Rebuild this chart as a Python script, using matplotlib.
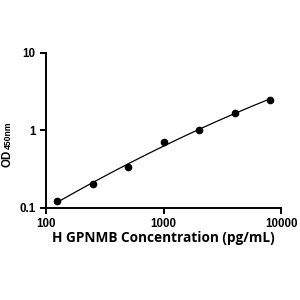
import matplotlib
matplotlib.use("Agg")
import matplotlib.pyplot as plt
import numpy as np

conc = [125, 250, 500, 1000, 2000, 4000, 8000]
od = [0.123, 0.20, 0.335, 0.70, 1.0, 1.66, 2.47]
xticks = [100, 1000, 10000]
xticklabels = ["100", "1000", "10000"]
yticks = [0.1, 1, 10]
yticklabels = ["0.1", "1", "10"]

plt.rcParams['font.family'] = ['Liberation Sans', 'DejaVu Sans']

fig = plt.figure(figsize=(3, 3), dpi=100)
ax = fig.add_axes([0.153, 0.308, 0.785, 0.517])

# smooth fit through data in log-log space
lx = np.log10(conc)
ly = np.log10(od)
coef = np.polyfit(lx, ly, 2)
xs = np.linspace(lx[0], lx[-1], 200)
ax.plot(10**xs, 10**np.polyval(coef, xs), color='black', lw=0.9)
ax.plot(conc, od, 'o', color='black', ms=4.5)

ax.set_xscale('log')
ax.set_yscale('log')
ax.set_xlim(100, 10000)
ax.set_ylim(0.1, 10)
ax.set_xticks(xticks)
ax.set_xticklabels(xticklabels)
ax.set_yticks(yticks)
ax.set_yticklabels(yticklabels)
ax.minorticks_off()
for s in ['top', 'right']:
    ax.spines[s].set_visible(False)
for s in ['left', 'bottom']:
    ax.spines[s].set_linewidth(1.4)
ax.tick_params(axis='both', which='major', direction='out', length=4, width=1.4,
               labelsize=8.3)
for lab in ax.get_xticklabels() + ax.get_yticklabels():
    lab.set_fontweight('bold')

ax.set_xlabel('H GPNMB Concentration (pg/mL)', fontsize=9.8, fontweight='bold',
              family=['Open Sans', 'DejaVu Sans'], labelpad=1)

# y label: "OD" with smaller inline "450nm"
W, H = fig.get_size_inches() * fig.dpi
fig.text(10.5 / W, 1 - 166.5 / H, 'OD', rotation=90, rotation_mode='anchor',
         ha='left', va='baseline', fontsize=8.3, fontweight='bold')
fig.text(10.5 / W, 1 - 148.8 / H, '450nm', rotation=90, rotation_mode='anchor',
         ha='left', va='baseline', fontsize=6.2, fontweight='bold')

fig.savefig('out.png', dpi=100)
